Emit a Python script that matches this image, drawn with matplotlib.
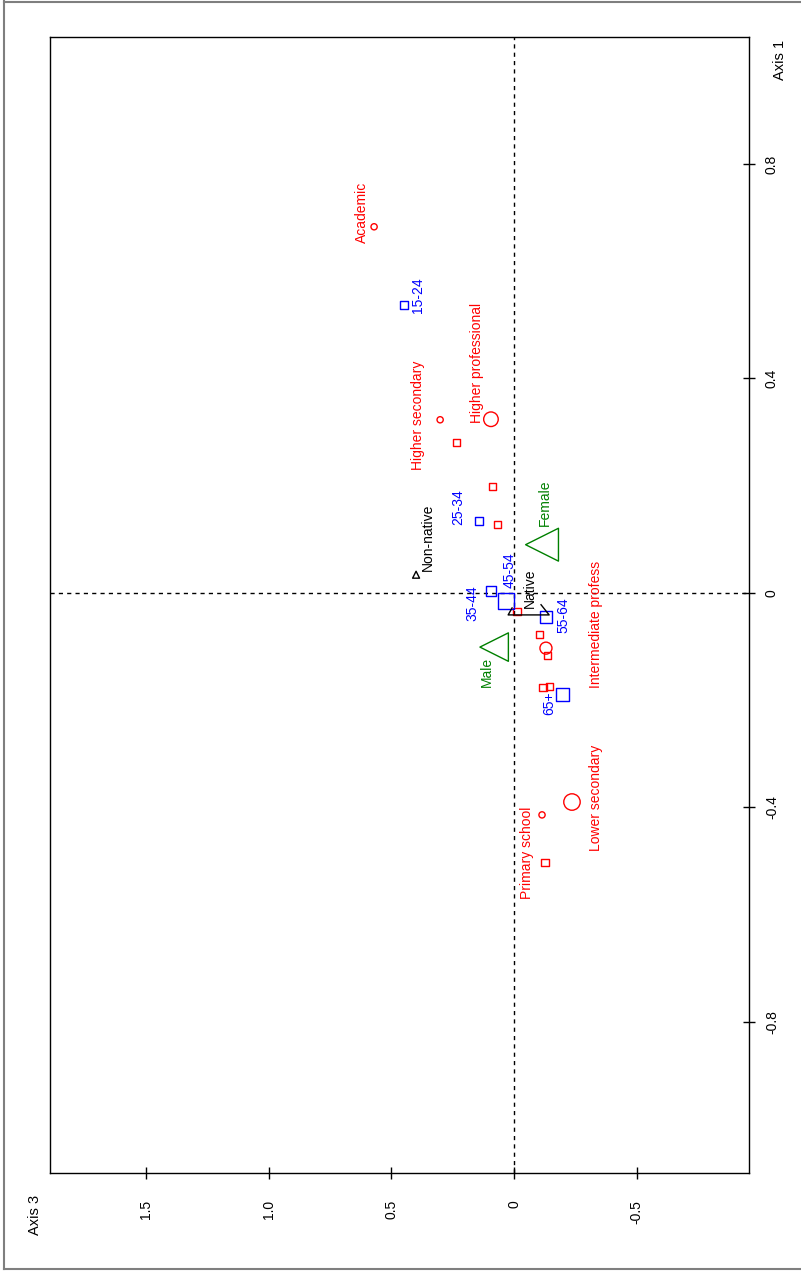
import matplotlib
matplotlib.use("Agg")
import matplotlib.pyplot as plt
from matplotlib.lines import Line2D

plt.rcParams['font.family'] = ['Liberation Sans', 'DejaVu Sans']

# ---- data (Axis 3 horizontal, Axis 1 vertical) ----
red_sq_x = [0.236, 0.086, 0.069, -0.012, -0.102, -0.138, -0.118, -0.143, -0.126]
red_sq_y = [0.280, 0.198, 0.127, -0.034, -0.078, -0.117, -0.177, -0.175, -0.502]

red_dot_names = ["Academic", "Higher secondary", "Primary school"]
red_dot_x = [0.570, 0.301, -0.114]
red_dot_y = [0.683, 0.323, -0.414]

red_circ_names = ["Higher professional", "Intermediate profess", "Lower secondary"]
red_circ_x = [0.094, -0.130, -0.236]
red_circ_y = [0.324, -0.103, -0.390]

age_names = ["15-24", "25-34", "35-44", "45-54", "55-64", "65+"]
age_x = [0.448, 0.143, 0.094, 0.033, -0.130, -0.196]
age_y = [0.537, 0.134, 0.004, -0.015, -0.045, -0.190]

sex_names = ["Female", "Male"]
sex_x = [-0.114, 0.081]
sex_y = [0.090, -0.101]

nat_names = ["Non-native", "Native"]
nonnative_x = [0.399]
nonnative_y = [0.034]
native_path_x = [0.008, 0.024, -0.143, -0.110]
native_path_y = [-0.028, -0.041, -0.041, -0.022]

axis3_ticks = [1.5, 1.0, 0.5, 0, -0.5]
axis3_labels = ["1.5", "1.0", "0.5", "0", "-0.5"]
axis1_ticks = [0.8, 0.4, 0, -0.4, -0.8]
axis1_labels = ["0.8", "0.4", "0", "-0.4", "-0.8"]

# label anchor positions (placement)
red_dot_lab = [(0.619, 0.710), (0.391, 0.332), (-0.053, -0.485)]
red_circ_lab = [(0.151, 0.429), (-0.334, -0.058), (-0.334, -0.382)]
age_lab = [(0.391, 0.556), (0.228, 0.160), (0.171, -0.019), (0.020, 0.043),
           (-0.200, -0.041), (-0.143, -0.205)]
sex_lab = [(-0.126, 0.168), (0.110, -0.147)]
nat_lab = [(0.350, 0.103), (-0.065, 0.009)]

RED = "#ff0000"
BLUE = "#0000ff"
GREEN = "#008000"
FS = 10

fig = plt.figure(figsize=(8.01, 12.73), dpi=100)
ax = fig.add_axes([50/801, 1-1173/1273, 699/801, 1136/1273])
ax.set_xlim(1.890, -0.957)
ax.set_ylim(-1.082, 1.037)

ax.axvline(0, color="black", lw=1, ls=(0, (3, 3)), zorder=1)
ax.axhline(0, color="black", lw=1, ls=(0, (3, 3)), zorder=1)

ax.scatter(red_sq_x, red_sq_y, marker="s", s=26, facecolors="none", edgecolors=RED, lw=1, zorder=3)
ax.scatter(red_dot_x, red_dot_y, marker="o", s=20, facecolors="none", edgecolors=RED, lw=1, zorder=3)
ax.scatter(red_circ_x, red_circ_y, marker="o", s=[110, 75, 140], facecolors="none", edgecolors=RED, lw=1, zorder=3)
ax.scatter(age_x, age_y, marker="s", s=[35, 35, 50, 120, 80, 90], facecolors="none", edgecolors=BLUE, lw=1, zorder=3)
ax.scatter(sex_x, sex_y, marker="<", s=[560, 420], facecolors="none", edgecolors=GREEN, lw=1, zorder=3)
ax.scatter(nonnative_x, nonnative_y, marker="^", s=25, facecolors="none", edgecolors="black", lw=1, zorder=3)
ax.plot(native_path_x, native_path_y, color="black", lw=1, zorder=3)

def lab(names, pos, color):
    for n, (x, y) in zip(names, pos):
        ax.text(x, y, n, rotation=90, color=color, fontsize=FS, ha="center", va="center", zorder=4)

lab(red_dot_names, red_dot_lab, RED)
lab(red_circ_names, red_circ_lab, RED)
lab(age_names, age_lab, BLUE)
lab(sex_names, sex_lab, GREEN)
lab(nat_names, nat_lab, "black")

ax.yaxis.tick_right()
ax.set_yticks(axis1_ticks)
ax.set_yticklabels(axis1_labels, rotation=90, va="center")
ax.set_xticks(axis3_ticks)
ax.set_xticklabels(axis3_labels, rotation=90)
ax.tick_params(axis="both", direction="inout", length=9, width=1, labelsize=FS, colors="black")
ax.tick_params(axis="y", pad=7)
ax.tick_params(axis="x", pad=15)
for sp in ax.spines.values():
    sp.set_linewidth(1)
    sp.set_color("black")

fig.text(780/801, 1-60/1273, "Axis 1", rotation=90, fontsize=10.5, ha="center", va="center")
fig.text(35/801, 1-1215/1273, "Axis 3", rotation=90, fontsize=10.5, ha="center", va="center")

# outer border (left, top, bottom)
gc = "#7f7f7f"
fig.add_artist(Line2D([4/801, 4/801], [1-1269/1273, 1-1/1273], transform=fig.transFigure, color=gc, lw=1.5))
fig.add_artist(Line2D([4/801, 1], [1-1.5/1273, 1-1.5/1273], transform=fig.transFigure, color=gc, lw=1.5))
fig.add_artist(Line2D([4/801, 1], [1-1269/1273, 1-1269/1273], transform=fig.transFigure, color=gc, lw=1.5))

fig.savefig("out.png", dpi=100)
